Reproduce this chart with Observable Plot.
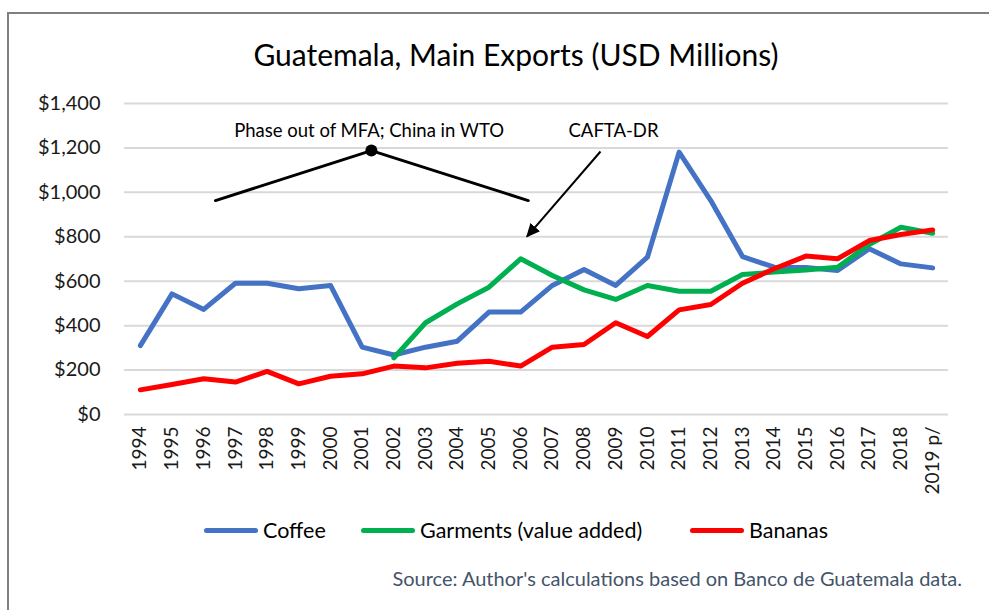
<!DOCTYPE html>
<html>
<head>
<meta charset="utf-8">
<script src="https://cdn.jsdelivr.net/npm/d3@7"></script>
<script src="https://cdn.jsdelivr.net/npm/@observablehq/plot@0.6"></script>
<style>
  html, body { margin: 0; padding: 0; background: #fff; }
  #wrap { position: relative; width: 989px; height: 610px; overflow: hidden; font-family: Lato, "Open Sans", sans-serif; }
  #border { position: absolute; left: 7px; top: 12px; width: 1200px; height: 900px; border: 2px solid #808080; box-sizing: border-box; }
  #title { position: absolute; left: 0; width: 1032px; top: 36px; text-align: center; font-size: 30px; color: #000; line-height: 36px; }
  #chart { position: absolute; left: 0; top: 80px; }
  .leg { position: absolute; top: 517px; height: 26px; display: flex; align-items: center; font-size: 21.5px; color: #000; }
  .leg .sw { display: inline-block; width: 54px; height: 5px; border-radius: 3px; margin-right: 5px; }
  #source { position: absolute; right: 27px; top: 566px; font-size: 20px; line-height: 24px; color: #44546a; }
</style>
</head>
<body>
<div id="wrap">
  <div id="border"></div>
  <div id="title">Guatemala, Main Exports (USD Millions)</div>
  <div id="chart"></div>
  <div id="legend"></div>
  <div id="source">Source: Author's calculations based on Banco de Guatemala data.</div>
</div>
<script>
// ---- data ----
const years = [1994,1995,1996,1997,1998,1999,2000,2001,2002,2003,2004,2005,2006,2007,2008,2009,2010,2011,2012,2013,2014,2015,2016,2017,2018,2019];
const yearLabels = ["1994","1995","1996","1997","1998","1999","2000","2001","2002","2003","2004","2005","2006","2007","2008","2009","2010","2011","2012","2013","2014","2015","2016","2017","2018","2019 p/"];
const coffee   = [310,543,473,591,591,566,581,303,268,303,330,461,461,581,653,581,708,1181,963,711,663,662,648,746,678,660];
const garments = [null,null,null,null,null,null,null,null,255,413,498,573,701,626,561,518,581,555,555,630,641,651,663,765,843,816];
const bananas  = [111,135,161,146,194,138,172,183,218,210,231,240,218,303,315,413,351,471,495,591,656,713,701,783,810,831];
const seriesNames  = ["Coffee","Garments (value added)","Bananas"];
const seriesColors = ["#4472c4","#00b050","#ff0000"];
const yTicks = [0,200,400,600,800,1000,1200,1400];

// annotations (in data units: year, USD millions)
const mfaLineX = [1996.37, 2001.29, 2006.24];
const mfaLineY = [963, 1188, 963];
const mfaDotX = [2001.29];
const mfaDotY = [1188];
const caftaArrow = [{x1: 2008.52, y1: 1184, x2: 2006.2, y2: 801}];
const noteText = ["Phase out of MFA; China in WTO", "CAFTA-DR"];
const noteX = [2001.22, 2008.93];
const noteY = [1274, 1274];

// ---- build tables ----
const seriesValues = [coffee, garments, bananas];
const seriesRows = seriesValues.map(vals => years.map((yr, i) => ({year: yr, value: vals[i] == null ? NaN : vals[i]})));
const mfaRows = mfaLineX.map((x, i) => ({x, y: mfaLineY[i]}));
const dotRows = mfaDotX.map((x, i) => ({x, y: mfaDotY[i]}));
const noteRows = noteText.map((t, i) => ({text: t, x: noteX[i], y: noteY[i]}));

function triHead(color, context) {
  const ns = "http://www.w3.org/2000/svg";
  const doc = (context && context.document) || document;
  const m = doc.createElementNS(ns, "marker");
  m.setAttribute("viewBox", "-5 -5 10 10");
  m.setAttribute("markerWidth", "7");
  m.setAttribute("markerHeight", "7");
  m.setAttribute("refX", "4");
  m.setAttribute("refY", "0");
  m.setAttribute("orient", "auto");
  const p = doc.createElementNS(ns, "path");
  p.setAttribute("d", "M-5,-4.5L5,0L-5,4.5Z");
  p.setAttribute("fill", color);
  p.setAttribute("stroke", "none");
  m.appendChild(p);
  return m;
}

const chart = Plot.plot({
  width: 989,
  height: 440,
  marginLeft: 124,
  marginRight: 41,
  marginTop: 23,
  marginBottom: 106,
  style: {fontFamily: "Lato, 'Open Sans', sans-serif", background: "transparent", color: "#1a1a1a", overflow: "visible"},
  x: {domain: [1993.5, 2019.5]},
  y: {domain: [0, 1400]},
  marks: [
    Plot.ruleY(yTicks, {stroke: "#d9d9d9", strokeWidth: 2}),
    Plot.axisY({ticks: yTicks, tickFormat: d => "$" + d3.format(",")(d), tickSize: 0, tickPadding: 24, fontSize: 20, label: null}),
    Plot.axisX({ticks: years, tickFormat: d => yearLabels[years.indexOf(d)], tickRotate: -90, tickSize: 0, tickPadding: 12, fontSize: 19, label: null}),
    ...seriesRows.map((rows, k) => Plot.line(rows, {x: "year", y: "value", stroke: seriesColors[k], strokeWidth: 5, strokeLinejoin: "round", strokeLinecap: "round"})),
    Plot.line(mfaRows, {x: "x", y: "y", stroke: "black", strokeWidth: 3}),
    Plot.dot(dotRows, {x: "x", y: "y", r: 6, fill: "black"}),
    Plot.link(caftaArrow, {x1: "x1", y1: "y1", x2: "x2", y2: "y2", stroke: "black", strokeWidth: 2, markerEnd: triHead}),
    Plot.text(noteRows, {x: "x", y: "y", text: "text", fontSize: 18.5, fill: "black"})
  ]
});
document.getElementById("chart").appendChild(chart);

// ---- legend ----
const legendLeft = [204, 361, 690];
const legend = document.getElementById("legend");
seriesNames.forEach((name, k) => {
  const item = document.createElement("div");
  item.className = "leg";
  item.style.left = legendLeft[k] + "px";
  const sw = document.createElement("span");
  sw.className = "sw";
  sw.style.background = seriesColors[k];
  const tx = document.createElement("span");
  tx.textContent = name;
  item.appendChild(sw);
  item.appendChild(tx);
  legend.appendChild(item);
});
</script>
</body>
</html>
